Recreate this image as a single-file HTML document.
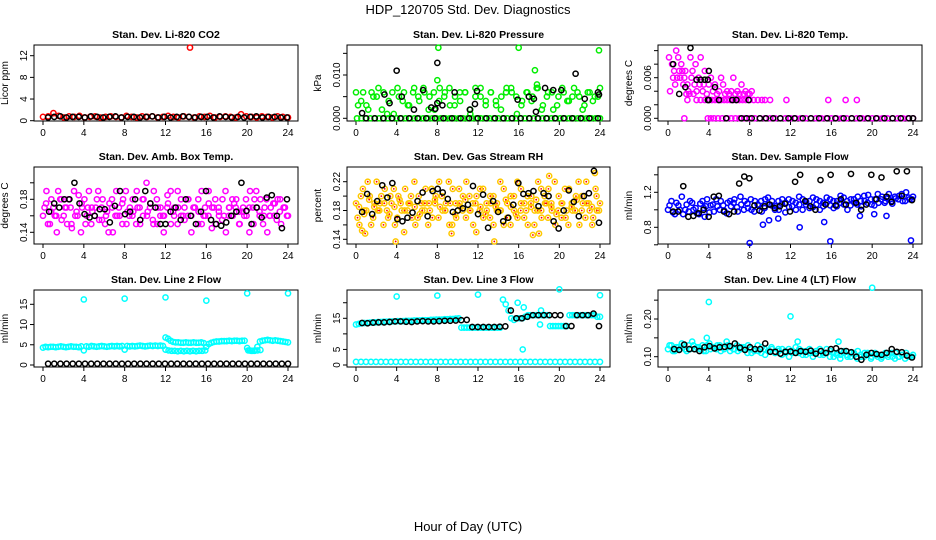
<!DOCTYPE html>
<html><head><meta charset="utf-8">
<style>
html,body{margin:0;padding:0;background:#fff;}
svg{display:block;font-family:"Liberation Sans",Arial,sans-serif;}
</style></head>
<body>
<svg id="chart" width="936" height="540" viewBox="0 0 936 540">
<text x="468" y="14" font-size="13" text-anchor="middle">HDP_120705  Std. Dev. Diagnostics</text>
<text x="468" y="531" font-size="13" text-anchor="middle">Hour of Day (UTC)</text>
</svg>
<script>
// ---------- data ----------
const hourTicks = [0,4,8,12,16,20,24];
const panelTitles = ["Stan. Dev. Li-820 CO2","Stan. Dev. Li-820 Pressure","Stan. Dev. Li-820 Temp.","Stan. Dev. Amb. Box Temp.","Stan. Dev. Gas Stream RH","Stan. Dev. Sample Flow","Stan. Dev. Line 2 Flow","Stan. Dev. Line 3 Flow","Stan. Dev. Line 4 (LT) Flow"];
const yTitles = ["Licor ppm","kPa","degrees C","degrees C","percent","ml/min","ml/min","ml/min","ml/min"];

// CO2
const co2Red = [0.7,0.8,1.4,0.9,0.6,0.8,0.7,0.9,0.6,0.7,0.8,0.6,0.7,0.8,0.7,0.6,0.9,0.7,0.6,0.8,0.7,0.8,0.6,0.7,0.9,0.7,0.6,0.8,0.7,0.6,0.8,0.7,0.9,0.6,0.7,0.8,0.7,0.6,1.2,0.8,0.7,0.6,0.8,0.7,0.6,0.8,0.7,0.6];
const co2Black = [0.6,0.7,0.8,0.6,0.7,0.7,0.6,0.8,0.7,0.6,0.7,0.8,0.6,0.7,0.7,0.6,0.7,0.8,0.6,0.7,0.6,0.7,0.8,0.7,0.6,0.7,0.7,0.6,0.8,0.7,0.6,0.7,0.6,0.7,0.8,0.6,0.7,0.7,0.6,0.6];
const co2OutT = [14.4];
const co2OutV = [13.5];

// Pressure (x 1e-3 kPa)
const presZero = [0,0,0,0,0,0,0,0,0,0,0,0,0,0,0,0,0,0,0,0,0,0,0,0,0,0,0,0,0,0,0,0,0,0,0,0,0,0,0,0,0,0,0,0,0,0,0,0,0,0,0,0,0,0,0,0];
const presA = [6,4,3,6,5,2,1,6,7,4,3,6,5,7,2,6,4,5,7,3,6,6,2,5,7,4,6,3,5,7,6,1,4,6,5,7,3,6,2,5,6,4,7,5,3,6,5,7];
const presB = [3,6,2,5,7,6,4,1,5,6,3,7,4,6,5,2,7,6,3,5,4,6,1,7,5,3,6,4,2,6,7,5,3,6,4,7,2,5,6,3,7,4,5,6,2,6,4,5];
const presOutT = [8.1,16.0,23.9,17.6,8.0,17.8];
const presOutV = [16.3,16.3,15.7,11.1,8.8,7.8];
const presBlackT = [0.6,2.8,3.3,4.0,4.5,5.7,6.6,7.4,7.8,8.0,8.0,8.5,9.7,11.2,11.7,11.9,15.9,17.0,17.5,17.7,18.6,19.4,20.2,21.6,22.5,23.8,23.9];
const presBlackV = [1.2,5.5,3.5,11,5,2,6.5,2.5,2.2,3.5,12.8,3,6,2,3.3,6.3,4.3,5,4.5,1.5,7,6.5,6.5,10.3,4.5,6,5.5];
const presBlackZero = [0,0,0,0,0,0,0,0,0,0,0,0,0,0,0,0,0,0,0,0,0,0,0,0,0,0,0,0];

// Li-820 Temp (x 1e-3 degC)
const magT = [0.1,0.2,0.4,0.5,0.6,0.7,0.8,0.9,1.0,1.1,1.2,1.3,1.4,1.5,1.6,1.7,1.8,1.9,2.0,2.1,2.2,2.3,2.4,2.5,2.6,2.7,2.8,3.0,3.1,3.2,3.4,3.5,3.6,3.8,4.0,4.2,4.4,4.6,4.8,5.0,5.2,5.4,5.6,5.8,6.0,6.2,6.4,6.6,6.8,7.0,7.2,7.4,7.6,7.8,8.0,8.2];
const magV = [9,4,8,6,7,5,10,6,9,7,6,8,7,5,6,7,3.6,5,4,3.6,9,6,7,3.6,5,8,4,6,5,9,4,5,7,3.6,5,6,4,5,3.6,4,6,5,3.6,4,3.6,4,6,3.6,4,3.6,5,3.6,4,3.6,3.6,4];
const magRowT = [1.9,2.8,3.2,3.6,4.0,4.3,4.6,4.9,5.2,5.5,5.8,6.1,6.4,6.7,7.0,7.3,7.6,8.0,8.4,8.8,9.2,9.5,10.0,11.6,15.7,17.4,18.5];
const magRowV = [2.7,2.7,2.7,2.7,2.7,2.7,2.7,2.7,2.7,2.7,2.7,2.7,2.7,2.7,2.7,2.7,2.7,2.7,2.7,2.7,2.7,2.7,2.7,2.7,2.7,2.7,2.7];
const magZeroT = [1.6,3.9,4.2,4.5,4.9,5.3,5.8,6.2,6.6,7.0,7.5,8.0,8.5,9.0,9.5,10,10.5,11,11.5,12,12.5,13,13.5,14,14.5,15,15.5,16,16.5,17,17.5,18,18.5,19,19.5,20,20.5,21,21.5,22,22.5,23,23.5,24];
const magZeroV = [0,0,0,0,0,0,0,0,0,0,0,0,0,0,0,0,0,0,0,0,0,0,0,0,0,0,0,0,0,0,0,0,0,0,0,0,0,0,0,0,0,0,0,0];
const tempBlackT = [0.5,1.1,1.7,2.2,2.8,3.2,3.6,3.9,4.0,4.6,3.9,4.0,5.0,6.3,6.7,7.9,5.7,7.2,7.7,8.2,9.0,9.6,10.3,11.0,11.8,12.4,13.2,14.0,14.8,15.6,16.4,17.2,18.0,18.8,19.6,20.4,21.2,22.0,22.8,23.6,24.0];
const tempBlackV = [8,3.6,4.6,10.4,5.7,5.7,5.7,5.7,7,4.6,2.7,2.7,2.7,2.7,2.7,2.7,0,0,0,0,0,0,0,0,0,0,0,0,0,0,0,0,0,0,0,0,0,0,0,0,0];

// Amb box temp
const ambA = [0.16,0.19,0.15,0.17,0.14,0.18,0.16,0.15,0.17,0.19,0.16,0.14,0.18,0.17,0.15,0.16,0.19,0.17,0.15,0.14,0.18,0.16,0.17,0.15,0.19,0.16,0.18,0.15,0.17,0.16,0.20,0.17,0.15,0.18,0.16,0.14,0.17,0.19,0.16,0.15,0.18,0.17,0.16,0.14,0.17,0.18,0.15,0.16,0.19,0.17,0.15,0.16,0.18,0.14,0.17,0.16,0.18,0.15,0.17,0.16,0.19,0.15,0.17,0.18,0.16,0.14,0.17,0.16,0.18,0.15,0.17,0.16];
const ambB = [0.17,0.15,0.18,0.16,0.19,0.155,0.17,0.18,0.145,0.16,0.185,0.17,0.15,0.19,0.165,0.17,0.155,0.18,0.16,0.175,0.14,0.19,0.16,0.18,0.15,0.17,0.165,0.19,0.15,0.18,0.16,0.175,0.19,0.15,0.17,0.16,0.185,0.15,0.17,0.19,0.16,0.155,0.18,0.16,0.17,0.15,0.19,0.17,0.16,0.145,0.18,0.17,0.155,0.19,0.16,0.18,0.17,0.15,0.165,0.18,0.14,0.17,0.19,0.16,0.15,0.18,0.16,0.175,0.155,0.18,0.17,0.16];
const ambC = [0.175,0.165,0.16,0.18,0.17,0.15,0.165,0.175,0.16,0.17,0.18,0.155,0.165,0.17,0.16,0.175,0.165,0.16,0.17,0.18,0.165,0.155,0.17,0.16,0.175,0.165,0.17,0.16,0.18,0.17,0.165,0.16,0.175,0.17,0.165,0.16,0.17,0.175,0.165,0.16,0.17,0.18,0.165,0.17,0.16,0.175,0.165,0.17];
const ambBlack = [0.165,0.175,0.17,0.18,0.18,0.2,0.175,0.162,0.158,0.16,0.168,0.168,0.152,0.172,0.19,0.162,0.165,0.18,0.155,0.19,0.175,0.17,0.15,0.15,0.165,0.17,0.155,0.18,0.16,0.15,0.165,0.19,0.155,0.15,0.148,0.152,0.16,0.165,0.2,0.166,0.15,0.17,0.158,0.182,0.185,0.16,0.145,0.18];

// RH
const rhA = [0.19,0.16,0.21,0.18,0.2,0.17,0.22,0.19,0.16,0.18,0.2,0.21,0.17,0.19,0.15,0.18,0.2,0.22,0.17,0.19,0.18,0.16,0.21,0.19,0.17,0.2,0.18,0.22,0.16,0.19,0.21,0.18,0.17,0.2,0.19,0.15,0.18,0.21,0.19,0.17,0.2,0.18,0.22,0.16,0.19,0.2,0.18,0.17,0.21,0.19,0.16,0.2,0.18,0.22,0.17,0.19,0.21,0.18,0.16,0.2,0.19,0.17,0.21,0.18,0.2,0.16,0.19,0.22,0.18,0.17,0.2,0.19];
const rhB = [0.17,0.2,0.18,0.22,0.16,0.19,0.18,0.2,0.21,0.17,0.19,0.16,0.2,0.18,0.21,0.19,0.17,0.16,0.2,0.18,0.21,0.19,0.17,0.2,0.22,0.18,0.19,0.16,0.21,0.17,0.19,0.2,0.22,0.18,0.16,0.2,0.21,0.17,0.18,0.2,0.16,0.19,0.18,0.21,0.17,0.16,0.2,0.22,0.18,0.17,0.2,0.19,0.16,0.18,0.21,0.2,0.17,0.19,0.22,0.18,0.17,0.21,0.16,0.19,0.18,0.22,0.2,0.17,0.19,0.16,0.21,0.18];
const rhC = [0.185,0.175,0.195,0.185,0.18,0.19,0.175,0.185,0.195,0.18,0.19,0.185,0.175,0.19,0.18,0.195,0.185,0.18,0.19,0.175,0.185,0.195,0.18,0.19,0.185,0.175,0.19,0.185,0.18,0.195,0.185,0.175,0.19,0.18,0.185,0.195,0.18,0.19,0.185,0.175,0.19,0.18,0.185,0.195,0.18,0.19,0.185,0.18];
const rhBlack = [0.178,0.203,0.175,0.193,0.215,0.198,0.218,0.168,0.165,0.17,0.177,0.193,0.205,0.172,0.207,0.21,0.205,0.196,0.178,0.18,0.183,0.188,0.214,0.175,0.202,0.156,0.193,0.178,0.165,0.17,0.188,0.218,0.203,0.204,0.207,0.186,0.204,0.2,0.165,0.155,0.18,0.208,0.192,0.172,0.2,0.204,0.235,0.163];
const rhOutT = [0.6,0.9,3.9,9.4,13.6,17.4,18.0,19.0,23.5];
const rhOutV = [0.152,0.148,0.137,0.148,0.137,0.146,0.148,0.228,0.232];

// Sample flow
const sfA = [1.0,1.1,0.95,1.05,1.15,1.0,0.98,1.08,1.02,0.95,1.1,1.04,0.97,1.06,1.12,1.0,1.05,0.96,1.1,1.08,1.03,1.15,1.0,1.07,1.12,0.98,1.06,1.1,1.02,1.14,1.05,1.0,1.1,1.07,0.97,1.12,1.04,1.08,1.15,1.0,1.06,1.1,1.03,1.12,1.0,1.08,1.14,1.05,1.02,1.1,1.16,1.06,1.0,1.12,1.08,1.15,1.04,1.1,1.17,1.06,1.12,1.08,1.15,1.1,1.18,1.07,1.13,1.16,1.1,1.2,1.12,1.15];
const sfB = [1.05,0.97,1.08,1.0,0.95,1.06,1.1,1.0,0.96,1.07,1.02,1.12,1.05,0.98,1.04,1.1,0.99,1.08,1.04,1.12,0.98,1.06,1.1,1.02,1.0,1.1,1.05,0.98,1.12,1.06,1.1,1.04,1.0,1.12,1.08,1.03,1.1,1.0,1.06,1.12,1.09,1.02,1.14,1.06,1.1,1.04,1.08,1.12,1.1,1.04,1.08,1.14,1.1,1.05,1.12,1.06,1.1,1.16,1.08,1.12,1.05,1.18,1.12,1.08,1.14,1.1,1.15,1.12,1.18,1.1,1.14,1.12];
const sfOutT = [8.0,9.3,15.9,23.8,12.9,10.8,9.9,15.3,3.6,18.8,20.2,21.4];
const sfOutV = [0.62,0.83,0.64,0.65,0.8,0.9,0.88,0.86,0.92,0.93,0.95,0.93];
const sfBlack = [0.98,0.98,1.27,0.92,0.93,0.96,1.0,0.92,1.15,1.16,0.98,0.95,0.98,1.3,1.38,1.36,1.05,0.99,1.04,1.06,1.02,1.04,1.07,0.98,1.32,1.4,1.1,1.04,1.0,1.34,1.06,1.4,1.05,1.12,1.06,1.41,1.08,1.0,1.06,1.4,1.12,1.37,1.15,1.09,1.44,1.16,1.44,1.11];

// Line 2 flow
const l2Main = [4.3,4.5,4.4,4.5,4.5,4.4,4.5,4.6,4.5,4.4,4.5,4.6,4.5,4.5,4.4,4.6,3.6,4.6,4.5,4.7,4.6,4.5,4.6,4.7,4.6,4.5,4.6,4.7,4.6,4.7,4.6,4.7,3.8,4.7,4.6,4.7,4.6,4.7,4.8,4.7,4.6,4.7,4.8,4.7,4.8,4.7,4.8,4.7,6.8,6.5,6.0,5.7,5.6,5.6,5.5,5.5,5.6,5.5,5.5,5.6,5.5,5.5,5.6,5.4,4.5,5.2,5.5,5.7,5.8,5.8,5.9,5.9,5.9,6.0,5.9,6.0,6.0,5.9,6.0,6.0,4.2,3.6,3.5,3.6,4.5,5.8,6.0,6.1,6.2,6.1,6.0,6.1,6.0,5.9,5.8,5.7,5.6];
const l2LowT = [12.0,12.3,12.6,12.9,13.2,13.5,13.8,14.1,14.4,14.7,15.0,15.3,15.6,15.9,20.1,20.4,20.7,21.0,21.3];
const l2LowV = [3.8,3.6,3.5,3.5,3.4,3.5,3.4,3.5,3.4,3.5,3.4,3.5,3.5,3.6,3.6,3.5,3.5,3.6,3.7];
const l2Black = [0.3,0.3,0.3,0.3,0.3,0.3,0.3,0.3,0.3,0.3,0.3,0.3,0.3,0.3,0.3,0.3,0.3,0.3,0.3,0.3,0.3,0.3,0.3,0.3,0.3,0.3,0.3,0.3,0.3,0.3,0.3,0.3,0.3,0.3,0.3,0.3,0.3,0.3,0.3,0.3];
const l2OutT = [4,8,12,16,20,24];
const l2OutV = [16.2,16.4,16.7,15.9,17.7,17.7];

// Line 3 flow
const l3Main = [13,13.2,13.4,13.5,13.5,13.6,13.7,13.7,13.8,13.8,13.9,13.9,14,14,14,14.1,14.1,14.1,14.2,14.2,14.2,14.3,14.3,14.3,14.4,14.4,14.4,14.5,14.5,14.6,14.6,14.6,14.7,14.7,14.8,14.8,14.9,15,12,12,12,12,12,12,12,12,12,12,12,12,12,12,12,21,19.5,17.5,15,14.5,15,15,15,15.5,16,16,16,16,16,16,16,16,12.5,12.5,12.5,12.5,12.5,12.5,12.5,16,16,16,16,16,16,16,16,16,16,15.5,15.5];
const l3Zero = [1,1,1,1,1,1,1,1,1,1,1,1,1,1,1,1,1,1,1,1,1,1,1,1,1,1,1,1,1,1,1,1,1,1,1,1,1,1,1,1,1,1,1,1,1,1,1,1,1,1];
const l3OutT = [4,8,12,20,24,16.4,18.2,16.5,15.9,18.1];
const l3OutV = [22,22.3,22.6,24.3,22.4,5,17.5,18.5,20,13];
const l3Black = [13.5,13.4,13.6,13.7,13.7,13.8,14,14,13.9,13.8,14,14.1,14,14,14.1,14.2,14.2,14.3,14.4,14.5,12.2,12.2,12.2,12.2,12.2,12.3,12.4,17.5,15,15,15.5,16,16,16,16,16,16,12.5,12.5,16,16,16,16.5,12.5];

// Line 4 flow
const l4A = [0.12,0.13,0.115,0.125,0.135,0.12,0.13,0.14,0.12,0.125,0.13,0.115,0.135,0.125,0.12,0.13,0.125,0.14,0.115,0.12,0.13,0.12,0.125,0.11,0.12,0.115,0.13,0.11,0.12,0.115,0.125,0.11,0.12,0.105,0.115,0.12,0.11,0.125,0.11,0.115,0.105,0.12,0.11,0.115,0.12,0.105,0.11,0.115,0.1,0.11,0.105,0.115,0.1,0.11,0.105,0.115,0.1,0.11,0.105,0.1,0.11,0.105,0.1,0.11,0.105,0.1,0.11,0.1,0.105,0.11,0.1,0.105];
const l4B = [0.13,0.115,0.125,0.12,0.13,0.115,0.12,0.13,0.125,0.12,0.115,0.13,0.12,0.125,0.13,0.115,0.12,0.13,0.125,0.12,0.115,0.125,0.12,0.13,0.11,0.12,0.115,0.125,0.105,0.115,0.12,0.11,0.115,0.12,0.11,0.1,0.115,0.11,0.12,0.105,0.115,0.11,0.1,0.115,0.105,0.11,0.12,0.1,0.11,0.105,0.095,0.11,0.105,0.1,0.11,0.095,0.105,0.1,0.11,0.095,0.105,0.1,0.095,0.105,0.1,0.11,0.095,0.1,0.105,0.095,0.1,0.1];
const l4OutT = [4,12,20,3.8,16.7,12.7];
const l4OutV = [0.245,0.207,0.283,0.15,0.14,0.14];
const l4Black = [0.12,0.118,0.132,0.12,0.12,0.115,0.125,0.128,0.122,0.125,0.126,0.128,0.135,0.124,0.118,0.125,0.12,0.12,0.135,0.113,0.113,0.108,0.113,0.114,0.11,0.115,0.113,0.116,0.108,0.115,0.11,0.12,0.122,0.115,0.115,0.112,0.1,0.092,0.105,0.11,0.107,0.105,0.11,0.12,0.113,0.112,0.103,0.098];

// ---------- layout ----------
const NS = "http://www.w3.org/2000/svg";
const svg = document.getElementById("chart");
const cols = [{L:34,R:298,x0:43,x24:288},{L:347,R:610,x0:356,x24:600},{L:658,R:922,x0:668,x24:913}];
const rows = [{T:45,B:121},{T:167,B:244},{T:290,B:367}];
const yAnchor = [
 {v1:0,p1:120.7,v2:12,p2:55.7,ticks:[0,4,8,12],labels:["0","4","8","12"]},
 {v1:0,p1:118.3,v2:10,p2:75,ticks:[0,5,10,15],labels:["0.000","","0.010",""]},
 {v1:0,p1:118.3,v2:6,p2:77.7,ticks:[0,2,4,6,8,10],labels:["0.000","","","0.006","",""]},
 {v1:0.14,p1:232.3,v2:0.18,p2:199.3,ticks:[0.14,0.16,0.18,0.20],labels:["0.14","","0.18",""]},
 {v1:0.14,p1:239.3,v2:0.22,p2:181.7,ticks:[0.14,0.16,0.18,0.20,0.22],labels:["0.14","","0.18","","0.22"]},
 {v1:0.8,p1:227.3,v2:1.2,p2:192.3,ticks:[0.6,0.8,1.0,1.2,1.4],labels:["","0.8","","1.2",""]},
 {v1:0,p1:365,v2:15,p2:304.3,ticks:[0,5,10,15],labels:["0","5","10","15"]},
 {v1:0,p1:365,v2:15,p2:318.3,ticks:[0,5,10,15,20],labels:["0","5","","15",""]},
 {v1:0.10,p1:356.7,v2:0.20,p2:319,ticks:[0.10,0.15,0.20,0.25],labels:["0.10","","0.20",""]}
];
function mk(tag, attrs, parent){const e=document.createElementNS(NS,tag);for(const k in attrs)e.setAttribute(k,attrs[k]);(parent||svg).appendChild(e);return e;}
function xS(i,h){const c=cols[i%3];return c.x0+(c.x24-c.x0)*h/24;}
function yS(i,v){const a=yAnchor[i];return a.p1+(v-a.v1)*(a.p2-a.p1)/(a.v2-a.v1);}
function even(n,a,b){const t=[];for(let k=0;k<n;k++)t.push(a+(b-a)*k/(n-1));return t;}

const groups=[];
for(let i=0;i<9;i++){
  const c=cols[i%3], r=rows[Math.floor(i/3)];
  const g=mk("g",{});
  
  
  groups.push(g);
  const t=mk("text",{x:(c.L+c.R)/2,y:r.T-7,"font-size":"10.5","font-weight":"bold","text-anchor":"middle"},g);
  t.textContent=panelTitles[i];
  
  
  const box=mk("rect",{x:c.L,y:r.T,width:c.R-c.L,height:r.B-r.T,fill:"none",stroke:"#000","stroke-width":"1"},g);
  
  
  const xa=mk("g",{},g);
  
  
  mk("line",{x1:xS(i,0),x2:xS(i,24),y1:r.B,y2:r.B,stroke:"#000"},xa);
  hourTicks.forEach(h=>{
    mk("line",{x1:xS(i,h),x2:xS(i,h),y1:r.B,y2:r.B+4,stroke:"#000"},xa);
    const tl=mk("text",{x:xS(i,h),y:r.B+15,"font-size":"10","text-anchor":"middle"},xa);
    tl.textContent=h;
    
    
  });
  const ya=mk("g",{},g);
  
  
  const a=yAnchor[i];
  a.ticks.forEach((v,k)=>{
    const y=yS(i,v);
    if(y<r.T-2||y>r.B+2) return;
    mk("line",{x1:c.L-4,x2:c.L,y1:y,y2:y,stroke:"#000"},ya);
    if(a.labels[k]){
      const tl=mk("text",{x:c.L-7,y:y,"font-size":"10","text-anchor":"middle",transform:`rotate(-90 ${c.L-7} ${y})`},ya);
      tl.textContent=a.labels[k];
      
      
    }
  });
  const yt=mk("text",{x:c.L-26,y:(r.T+r.B)/2,"font-size":"10","text-anchor":"middle",transform:`rotate(-90 ${c.L-26} ${(r.T+r.B)/2})`},g);
  yt.textContent=yTitles[i];
  
  
}

function pts(i,times,vals,color,name,inner){
  const g=mk("g",{},groups[i]);
  
  
  vals.forEach((v,k)=>{
    const cx=xS(i,times[k]), cy=yS(i,v);
    const p=mk("circle",{cx:cx,cy:cy,r:2.6,fill:"none",stroke:color,"stroke-width":"1.5"},g);
    
    
    if(inner){
      const d=mk("circle",{cx:cx,cy:cy,r:0.9,fill:inner},g);
      
      
    }
  });
}
const RED="#ff0000", GRN="#00ee00", MAG="#ff00ff", CYN="#00ffff", BLU="#0000ff", BLK="#000", YEL="#ffc800";
pts(0,even(co2Red.length,0,24),co2Red,RED,"co2-series");
pts(0,even(co2Black.length,0.5,23.9),co2Black,BLK,"co2-black-series");
pts(0,co2OutT,co2OutV,RED,"co2-outliers");
pts(1,even(presZero.length,0.1,24),presZero,GRN,"pressure-zero-series");
pts(1,even(presA.length,0,24),presA,GRN,"pressure-series-a");
pts(1,even(presB.length,0.2,23.8),presB,GRN,"pressure-series-b");
pts(1,presOutT,presOutV,GRN,"pressure-outliers");
pts(1,even(presBlackZero.length,1,23.8),presBlackZero,BLK,"pressure-black-zero");
pts(1,presBlackT,presBlackV,BLK,"pressure-black-series");
pts(2,magT,magV,MAG,"temp-series");
pts(2,magRowT,magRowV,MAG,"temp-row-series");
pts(2,magZeroT,magZeroV,MAG,"temp-zero-series");
pts(2,tempBlackT,tempBlackV,BLK,"temp-black-series");
pts(3,even(ambA.length,0,24),ambA,MAG,"amb-series-a");
pts(3,even(ambB.length,0.15,23.9),ambB,MAG,"amb-series-b");
pts(3,even(ambC.length,0.3,23.7),ambC,MAG,"amb-series-c");
pts(3,even(ambBlack.length,0.6,23.9),ambBlack,BLK,"amb-black-series");
pts(4,even(rhA.length,0,24),rhA,YEL,"rh-series-a",RED);
pts(4,even(rhB.length,0.15,23.9),rhB,YEL,"rh-series-b",RED);
pts(4,even(rhC.length,0.3,23.7),rhC,YEL,"rh-series-c",RED);
pts(4,rhOutT,rhOutV,YEL,"rh-outliers",RED);
pts(4,even(rhBlack.length,0.6,23.9),rhBlack,BLK,"rh-black-series");
pts(5,even(sfA.length,0,24),sfA,BLU,"sample-flow-series-a");
pts(5,even(sfB.length,0.15,23.9),sfB,BLU,"sample-flow-series-b");
pts(5,sfOutT,sfOutV,BLU,"sample-flow-outliers");
pts(5,even(sfBlack.length,0.5,23.9),sfBlack,BLK,"sample-flow-black-series");
pts(6,even(l2Main.length,0,24),l2Main,CYN,"line2-series");
pts(6,l2LowT,l2LowV,CYN,"line2-low-series");
pts(6,l2OutT,l2OutV,CYN,"line2-outliers");
pts(6,even(l2Black.length,0.5,24),l2Black,BLK,"line2-black-series");
pts(7,even(l3Zero.length,0,24),l3Zero,CYN,"line3-zero-series");
pts(7,even(l3Main.length,0,24),l3Main,CYN,"line3-series");
pts(7,l3OutT,l3OutV,CYN,"line3-outliers");
pts(7,even(l3Black.length,0.6,23.9),l3Black,BLK,"line3-black-series");
pts(8,even(l4A.length,0,24),l4A,CYN,"line4-series-a");
pts(8,even(l4B.length,0.15,23.9),l4B,CYN,"line4-series-b");
pts(8,l4OutT,l4OutV,CYN,"line4-outliers");
pts(8,even(l4Black.length,0.6,23.9),l4Black,BLK,"line4-black-series");
</script>
</body></html>
